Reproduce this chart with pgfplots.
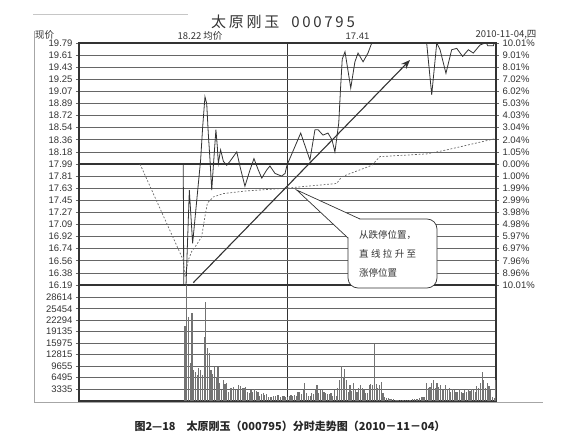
\documentclass[border=0pt]{standalone}
\usepackage{pgfplots}
\pgfplotsset{compat=1.18}
\usepackage{pgfplotstable}
\usepackage{fontspec}
\usetikzlibrary{arrows.meta}
\setmainfont{Liberation Sans}
\newfontfamily\cjk{Noto Sans CJK SC}
\newfontfamily\cjkt[LetterSpace=18]{Noto Sans CJK SC}

\definecolor{ink}{gray}{0.2}
\definecolor{gridc}{gray}{0.4}

% volume per minute (minute of session, shares)
\pgfplotstableread{
m v
61 20700
62 32000
63 23300
64 10400
65 24200
66 8500
67 8100
68 7200
69 9200
70 8500
71 7300
72 17600
73 27400
74 14500
75 13200
76 8500
77 7400
78 9300
79 6700
80 9400
81 4900
82 3000
83 5800
84 4800
85 5000
86 2600
87 3500
88 3700
89 3900
90 3000
91 2900
92 4400
93 4100
94 3600
95 3500
96 3800
97 2500
98 2100
99 3000
100 2400
101 3400
102 2700
103 2500
104 1300
105 2000
106 2200
107 1700
108 1800
109 1100
110 1000
111 1200
112 1500
113 1400
114 1600
115 1700
116 1200
117 1400
118 1300
119 1000
120 1200
121 1400
122 1600
123 1300
124 1700
125 1500
126 2400
127 2600
128 2000
129 3000
130 5000
131 2200
132 1400
133 1300
134 2200
135 2000
136 3000
137 4400
138 2200
139 3000
140 2900
141 2400
142 2200
143 2000
144 1900
145 2100
146 1500
147 3000
148 1300
149 3500
150 5800
151 9700
152 6700
153 8700
154 5800
155 2600
156 4400
157 2800
158 4900
159 3000
160 2600
161 3500
162 4400
163 3700
164 3000
165 2100
166 2100
167 4500
168 4700
169 4500
170 15700
171 4700
172 3500
173 4400
174 5200
175 2100
176 1200
177 900
178 700
179 600
180 500
181 500
182 400
183 400
184 300
185 300
186 300
187 300
188 300
189 300
190 400
191 400
192 500
193 500
194 500
195 600
196 800
197 1000
198 1200
199 1000
200 4900
201 3500
202 3900
203 4900
204 5900
205 3500
206 4900
207 3900
208 4400
209 3000
210 3000
211 4400
212 3200
213 3500
214 2600
215 3200
216 3000
217 2600
218 2600
219 3200
220 2600
221 2100
222 3000
223 2600
224 3200
225 2800
226 3200
227 3000
228 2600
229 4100
230 3500
231 4900
232 8100
233 5800
234 3500
235 4900
236 4100
237 3000
238 1200
239 900
240 5800
}\voltable

\pgfplotsset{
  chartbase/.style={
    anchor=north west, scale only axis, width=417pt,
    xmin=0, xmax=240,
    xtick={120}, xticklabels={}, xmajorgrids,
    x tick style={draw=none},
    x grid style={ink, line width=1.4pt},
    ymajorgrids, y grid style={gridc, line width=0.65pt},
    tick align=outside, major tick length=3pt,
    y tick style={gridc, line width=0.65pt},
    axis line style={ink, line width=1.1pt},
    yticklabel style={font=\fontsize{9.5}{10}\selectfont, text=ink},
    /pgf/number format/assume math mode=true,
  },
}

\begin{document}
\begin{tikzpicture}
\useasboundingbox (0,0) rectangle (565pt,-441pt);

% price panel
\begin{axis}[chartbase,
  at={(79pt,-43pt)}, height=242pt,
  ymin=16.19, ymax=19.79,
  ytick={16.19,16.37,16.55,16.73,16.91,17.09,17.27,17.45,17.63,17.81,17.99,18.17,18.35,18.53,18.71,18.89,19.07,19.25,19.43,19.61,19.79},
  yticklabels={16.19,16.38,16.56,16.74,16.92,17.09,17.27,17.45,17.63,17.81,17.99,18.18,18.36,18.54,18.72,18.89,19.07,19.25,19.43,19.61,19.79},
  ytick pos=left,
]
\draw[ink, line width=1.7pt] (axis cs:0,17.99) -- (axis cs:240,17.99);
\addplot[black!60, line width=0.7pt, dash pattern=on 1.8pt off 1.8pt] coordinates {
(35.1,17.99)(60,16.56)(61,16.31)(62.9,16.56)(64.9,16.69)(67.7,16.79)(70.6,16.91)
(72.5,17.21)(73.9,17.41)(77.3,17.50)(83.1,17.55)(96.5,17.59)(119.5,17.63)(127.2,17.65)
(148.3,17.70)(151.2,17.80)(168.5,17.97)(173.2,18.10)(200.1,18.14)(211.6,18.20)(238.4,18.36)(240,18.37)
};
\addplot[ink, line width=0.8pt] coordinates {
(60,17.99)(60.3,16.19)(61.6,16.19)(63.5,17.60)(65.4,16.81)(68.7,17.70)(70.0,18.05)(71.2,18.55)
(72.5,18.99)(73.5,18.89)(74.4,18.45)(75.4,18.05)(76.4,17.60)(77.3,17.95)(78.8,18.50)(79.6,18.25)
(80.2,18.00)(81.5,18.20)(83.1,18.03)(85.0,17.97)(86.9,18.03)(90.8,18.17)(92.7,17.95)(95.5,17.66)
(98.4,17.90)(100.7,18.07)(103.2,17.90)(105.2,17.78)(108.0,17.90)(109.9,17.96)(112.8,17.85)
(114.7,17.83)(116.6,17.81)(118.6,17.85)(119.5,17.95)(120,17.99)(127.6,18.45)(128.9,18.35)
(132.9,18.05)(135.8,18.50)(137.6,18.50)(140.4,18.42)(143.3,18.45)(145.6,18.35)(147.3,18.17)
(149.5,18.60)(150.5,19.10)(151.5,19.55)(153.1,19.66)(156.4,19.12)(158.8,19.51)(160.6,19.64)
(163.5,19.51)(166.3,19.64)(168.5,19.79)(200.1,19.79)(203.0,19.02)(205.9,19.79)(207.8,19.69)
(211.2,19.34)(214.5,19.69)(217.4,19.71)(220.8,19.59)(224.1,19.69)(226.9,19.64)(230.8,19.76)
(233.7,19.79)(234.5,19.79)(235.2,19.75)(238.5,19.75)(239,19.79)(240,19.79)
};
\end{axis}

% right-hand percentage scale
\begin{axis}[chartbase,
  at={(79pt,-43pt)}, height=242pt,
  ymin=16.19, ymax=19.79, hide x axis, ymajorgrids=false,
  ytick={16.19,16.37,16.55,16.73,16.91,17.09,17.27,17.45,17.63,17.81,17.99,18.17,18.35,18.53,18.71,18.89,19.07,19.25,19.43,19.61,19.79},
  yticklabels={10.01\%,8.96\%,7.96\%,6.97\%,5.97\%,4.98\%,3.98\%,2.99\%,1.99\%,1.00\%,0.00\%,1.05\%,2.04\%,3.04\%,4.03\%,5.03\%,6.02\%,7.02\%,8.01\%,9.01\%,10.01\%},
  ytick pos=right, yticklabel pos=right,
]
\addplot[draw=none] coordinates {(0,17.99)};
\end{axis}

% volume panel
\begin{axis}[chartbase,
  at={(79pt,-285pt)}, height=116pt,
  ymin=0, ymax=32000, scaled y ticks=false,
  ytick={3335,6495,9655,12815,15975,19135,22294,25454,28614},
  yticklabels={3335,6495,9655,12815,15975,19135,22294,25454,28614},
  ytick pos=left,
]
\addplot[ycomb, black!55, line width=1.15pt] table[x=m, y=v] {\voltable};
\end{axis}

\begin{scope}[x=1pt, y=-1pt]
\draw[gray!45, line width=0.5pt] (33,14)--(188,14);
\draw[gray!70, line width=0.6pt] (34,31)--(34,402)--(543,402);

\node[font=\cjkt\fontsize{15}{16}\selectfont, text=ink] at (283,22) {太原刚玉\ \ 000795};
\node[anchor=west, font=\cjk\fontsize{9.5}{10}\selectfont, text=ink, inner sep=0pt] at (35,35) {现价};
\node[font=\cjk\fontsize{9.5}{10}\selectfont, text=ink, inner sep=0pt] at (200,36) {18.22 均价};
\node[font=\fontsize{9.5}{10}\selectfont, text=ink, inner sep=0pt] at (357.5,36) {17.41};
\node[font=\cjk\fontsize{9.5}{10}\selectfont, text=ink, inner sep=0pt] at (506,35) {2010-11-04,四};

\draw[ink, line width=1.1pt, -{Stealth[length=9pt, width=7pt]}] (193.3,282.7)--(410,60);

\draw[ink, line width=0.7pt, fill=white, rounded corners=10pt] (348,219) rectangle (437,288);
\fill[white] (296.7,190)--(348,238)--(360,219)--cycle;
\draw[ink, line width=0.7pt] (348,238)--(296.7,190)--(360,219);
\node[anchor=west, font=\cjk\fontsize{9.5}{10}\selectfont, text=ink, inner sep=0pt] at (359,235) {从跌停位置，};
\node[anchor=west, font=\cjk\fontsize{9.5}{10}\selectfont, text=ink, inner sep=0pt] at (359,254) {\makebox[57pt][s]{直\hfil 线\hfil 拉\hfil 升\hfil 至}};
\node[anchor=west, font=\cjk\fontsize{9.5}{10}\selectfont, text=ink, inner sep=0pt] at (359,273) {涨停位置};

\node[font=\cjk\bfseries\fontsize{11}{12}\selectfont, text=black!85] at (290,426.5) {图2—18\quad 太原刚玉（000795）分时走势图（2010－11－04）};
\end{scope}
\end{tikzpicture}
\end{document}
